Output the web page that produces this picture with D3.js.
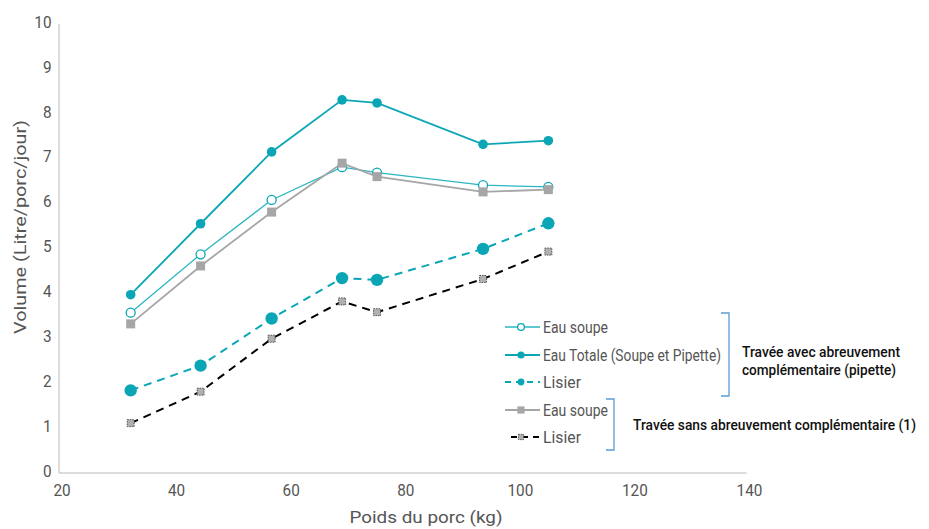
<!DOCTYPE html>
<html><head><meta charset="utf-8">
<script src="https://cdn.jsdelivr.net/npm/d3@7"></script>
<style>
html,body{margin:0;padding:0;background:#fff;}
text{font-family:Roboto,'Noto Sans',sans-serif;}
</style></head>
<body>
<svg id="chart" width="929" height="529"></svg>
<script>
const poids = [32.6, 44.8, 57.2, 69.5, 75.6, 94.1, 105.5];
const eauSoupeAvec = [3.56, 4.86, 6.07, 6.80, 6.68, 6.40, 6.36];
const eauTotale = [3.96, 5.54, 7.14, 8.30, 8.23, 7.31, 7.39];
const lisierAvec = [1.83, 2.38, 3.43, 4.33, 4.29, 4.98, 5.55];
const eauSoupeSans = [3.31, 4.60, 5.80, 6.89, 6.59, 6.25, 6.30];
const lisierSans = [1.10, 1.80, 2.98, 3.81, 3.57, 4.31, 4.92];
const xTicks = [20, 40, 60, 80, 100, 120, 140];
const yTicks = [0, 1, 2, 3, 4, 5, 6, 7, 8, 9, 10];
const legendLabels = ["Eau soupe", "Eau Totale (Soupe et Pipette)", "Lisier", "Eau soupe", "Lisier"];
const groupLabels = [["Travée avec abreuvement", "complémentaire (pipette)"], ["Travée sans abreuvement complémentaire (1)"]];

const teal = "#0aa6b6", tealLight = "#2bb6c2", gray = "#a6a6a6", txt = "#555555";
const svg = d3.select("#chart");
const x = d3.scaleLinear().domain([20, 140]).range([58.5, 746]);
const y = d3.scaleLinear().domain([0, 10]).range([472.5, 23.5]);

function condense(sel, factor) {
  sel.each(function() {
    const w = this.getComputedTextLength();
    d3.select(this).attr("textLength", w * factor).attr("lengthAdjust", "spacingAndGlyphs");
  });
}

// axes
const xAxis = svg.append("g").attr("transform", `translate(0,${y(0)})`)
  .call(d3.axisBottom(x).tickValues(xTicks).tickSize(0).tickPadding(11));
xAxis.select(".domain").attr("stroke", "#d0d0d0").attr("stroke-width", 1.5);
xAxis.selectAll("text").attr("fill", txt).style("font-size", "17px").attr("dx", "3");
condense(xAxis.selectAll("text"), 0.9);
const yAxis = svg.append("g").attr("transform", `translate(${x(20)},0)`)
  .call(d3.axisLeft(y).tickValues(yTicks).tickSize(0).tickPadding(7));
yAxis.select(".domain").attr("stroke", "#d0d0d0").attr("stroke-width", 1.5);
yAxis.selectAll("text").attr("fill", txt).style("font-size", "17px").attr("dy", "0.22em");
condense(yAxis.selectAll("text"), 0.9);

svg.append("text").attr("x", 426).attr("y", 523).attr("text-anchor", "middle")
  .attr("fill", txt).style("font-size", "17px").text("Poids du porc (kg)")
  .attr("textLength", 153).attr("lengthAdjust", "spacingAndGlyphs");
svg.append("text").attr("transform", "translate(26,227) rotate(-90)").attr("text-anchor", "middle")
  .attr("fill", txt).style("font-size", "17px").text("Volume (Litre/porc/jour)")
  .attr("textLength", 214).attr("lengthAdjust", "spacingAndGlyphs");

const line = d3.line().x((d, i) => x(poids[i])).y(d => y(d));

const series = [
  {v: eauSoupeAvec, stroke: tealLight, w: 1.3, dash: null, marker: "openCircle"},
  {v: eauTotale, stroke: teal, w: 1.8, dash: null, marker: "circle"},
  {v: lisierAvec, stroke: teal, w: 2, dash: "8,6", marker: "bigCircle"},
  {v: eauSoupeSans, stroke: gray, w: 1.8, dash: null, marker: "square"},
  {v: lisierSans, stroke: "#000", w: 2, dash: "8,6", marker: "dashSquare"}
];

function drawMarker(g, type, cx, cy, scale) {
  scale = scale || 1;
  if (type === "openCircle") g.append("circle").attr("cx", cx).attr("cy", cy).attr("r", 4.5*scale).attr("fill", "#fff").attr("stroke", teal).attr("stroke-width", 1.3);
  else if (type === "circle") g.append("circle").attr("cx", cx).attr("cy", cy).attr("r", 4.8*scale).attr("fill", teal);
  else if (type === "bigCircle") g.append("circle").attr("cx", cx).attr("cy", cy).attr("r", 6.2*scale).attr("fill", teal);
  else if (type === "square") { const s = 9*scale; g.append("rect").attr("x", cx - s/2).attr("y", cy - s/2).attr("width", s).attr("height", s).attr("fill", gray); }
  else if (type === "dashSquare") { const s = 7*scale; g.append("rect").attr("x", cx - s/2).attr("y", cy - s/2).attr("width", s).attr("height", s).attr("fill", "#b0b0b0").attr("stroke", "#333").attr("stroke-width", 0.8).attr("stroke-dasharray", "1.5,1"); }
}

series.forEach(s => {
  const g = svg.append("g");
  g.append("path").datum(s.v).attr("d", line).attr("fill", "none")
    .attr("stroke", s.stroke).attr("stroke-width", s.w).attr("stroke-dasharray", s.dash);
  s.v.forEach((d, i) => drawMarker(g, s.marker, x(poids[i]), y(d)));
});

// legend
const legY = [327, 355, 382, 410, 437];
const legW = [65, 178, 38, 65, 38];
series.forEach((s, i) => {
  const g = svg.append("g");
  const x0 = i === 4 ? 511 : 505, x1 = 540;
  g.append("line").attr("x1", x0).attr("x2", x1).attr("y1", legY[i]).attr("y2", legY[i])
    .attr("stroke", s.stroke).attr("stroke-width", s.w).attr("stroke-dasharray", s.dash ? "6,5" : null);
  drawMarker(g, s.marker, 521, legY[i], s.marker === "bigCircle" ? 0.55 : (s.marker === "square" ? 0.8 : 0.75));
  g.append("text").attr("x", 543).attr("y", legY[i]).attr("dy", "0.35em").attr("fill", txt)
    .style("font-size", "16.5px").attr("textLength", legW[i]).attr("lengthAdjust", "spacingAndGlyphs").text(legendLabels[i]);
});

// brackets
const blue = "#5b9bd5";
function bracket(xv, y0, y1) {
  svg.append("path").attr("d", `M${xv-8},${y0} H${xv} V${y1} H${xv-8}`).attr("fill", "none").attr("stroke", blue).attr("stroke-width", 1.3);
}
bracket(729, 313, 396);
bracket(614, 399, 450);
function groupText(tx, ty, s, w, fs) {
  svg.append("text").attr("x", tx).attr("y", ty).attr("fill", "#111").style("font-size", fs + "px").style("font-weight", "500")
    .attr("textLength", w).attr("lengthAdjust", "spacingAndGlyphs").text(s);
}
groupText(742, 357, groupLabels[0][0], 158, 15);
groupText(742, 375, groupLabels[0][1], 154, 15);
groupText(633, 430, groupLabels[1][0], 283, 14);
</script>
</body></html>
